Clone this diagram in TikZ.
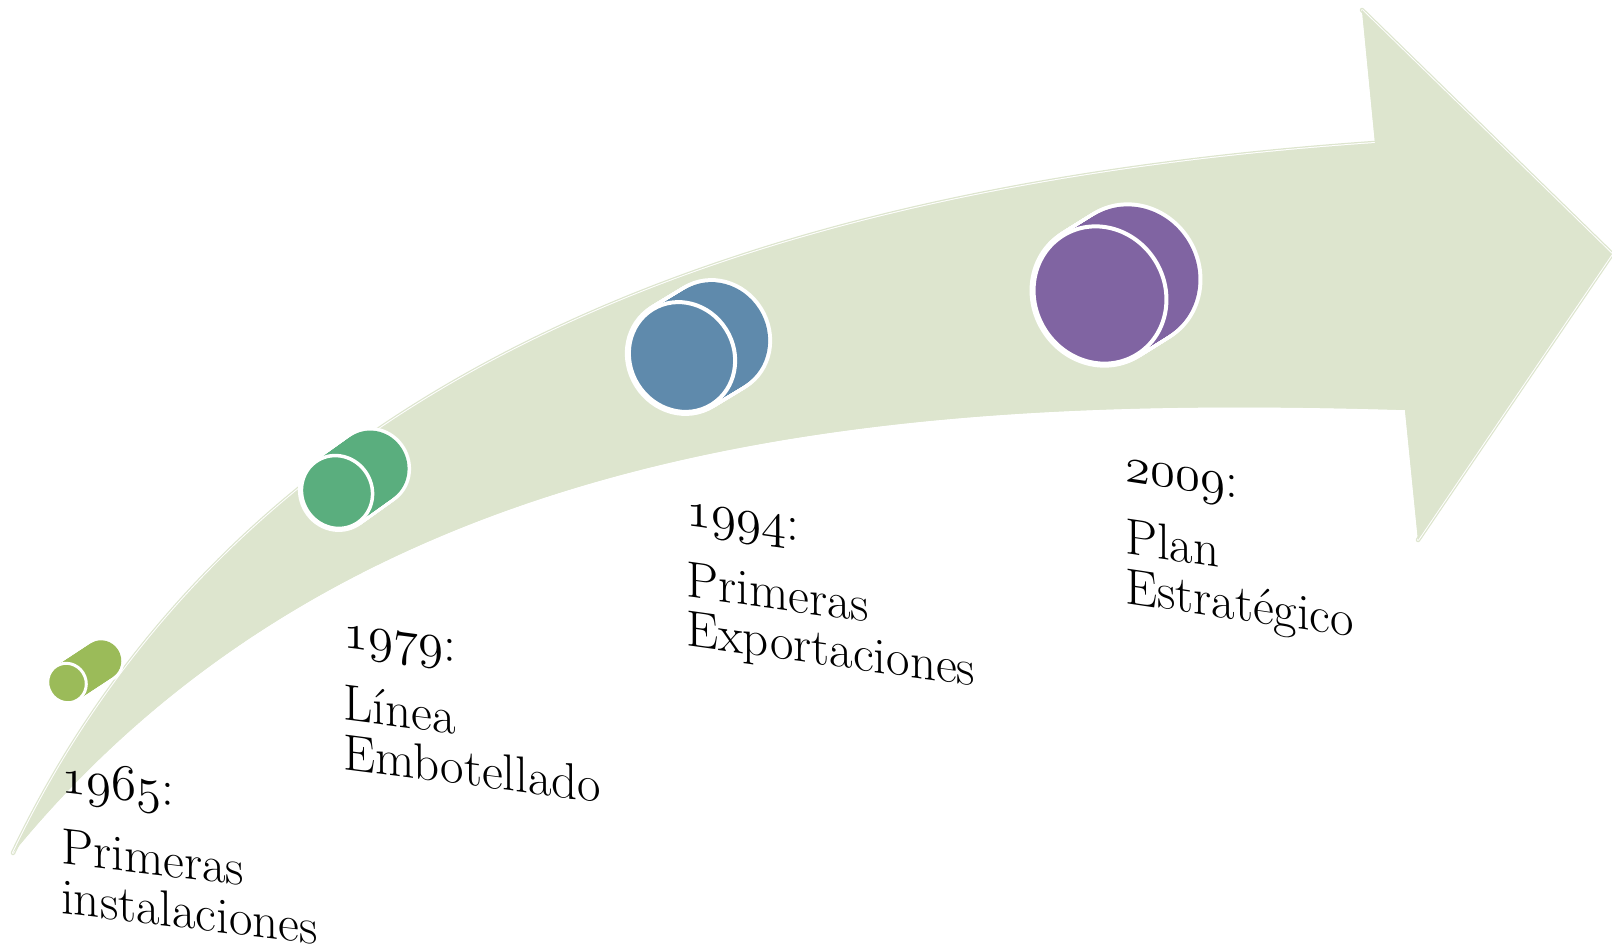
\documentclass[tikz,border=0pt]{standalone}
\usepackage{fontspec}
\definecolor{arrowc}{HTML}{DDE5CE}
\definecolor{limec}{HTML}{9BBB59}
\definecolor{greenc}{HTML}{5AAE7E}
\definecolor{bluec}{HTML}{5F8AAC}
\definecolor{purplec}{HTML}{8064A2}
\font\osffont=cmmi12 at 51pt
\newcommand\osf[1]{{\osffont #1}}
% #1 name, #2 x, #3 y, #4 rx, #5 ry, #6 dx, #7 dy, #8 colour, #9 white width
\newcommand\drawcyl[9]{%
  \begin{scope}[shift={(#2,#3)}]
    \coordinate (#1) at (0,0);
    \foreach \t in {0,0.04,...,1.001}
      \draw[white, line width=2*#9] [shift={(\t*#6,\t*#7)}, rotate=32] (0,0) ellipse (#4 and #5);
    \foreach \t in {0,0.04,...,1.001}
      \fill[#8] [shift={(\t*#6,\t*#7)}, rotate=32] (0,0) ellipse (#4 and #5);
    \draw[white, line width=#9, fill=#8] [rotate=32] (0,0) ellipse (#4 and #5);
  \end{scope}}
\newcommand\lbltext[3]{\begin{tabular}[t]{@{}l@{}}\osf{#1}:\\[23pt]#2\\#3\end{tabular}}
\tikzset{
  lbl/.style={anchor=base west, inner sep=0pt, yslant=-#1,
    font=\fontsize{51}{47}\selectfont\addfontfeature{FakeBold=1}, align=left},
  rim/.style={arrowc, line width=4.5pt, line join=round, line cap=round},
  gleam/.style={white, line width=2pt, line join=round, line cap=round},
}
\def\arrowpath{(13,853) .. controls (249.5,358) and (775,185) .. (1375,143)
  -- (1362,10) -- (1612,254) -- (1418,540) -- (1405,410)
  .. controls (905,395) and (359.5,429.5) .. (13,853) -- cycle}
\def\toppath{(13,853) .. controls (249.5,358) and (775,185) .. (1375,143)}
\def\headpath{(1362,10) -- (1612,254) -- (1418,540)}
\begin{document}
\begin{tikzpicture}[x=1pt,y=-1pt]
\useasboundingbox (0,0) rectangle (1612,951);
% curved arrow
\fill[arrowc] \arrowpath;
\draw[rim] \toppath;
\draw[rim] \headpath;
\draw[gleam] \toppath;
\draw[gleam] \headpath;
\fill[arrowc] \arrowpath;
% cylinders
\drawcyl{c1}{67}{683}{19}{20}{35}{-23}{limec}{3pt}
\drawcyl{c2}{337}{492}{35}{37}{35}{-25}{greenc}{3.5pt}
\drawcyl{c3}{682}{357}{52}{56}{33}{-20}{bluec}{4pt}
\drawcyl{c4}{1100}{295}{65}{70}{32}{-20}{purplec}{4pt}
% labels
\node[lbl=0.12] (t1) at (61,792) {\lbltext{1965}{Primeras}{instalaciones}};
\node[lbl=0.13] (t2) at (343,647) {\lbltext{1979}{Línea}{Embotellado}};
\node[lbl=0.14] (t3) at (686,525) {\lbltext{1994}{Primeras}{Exportaciones}};
\node[lbl=0.15] (t4) at (1125,481) {\lbltext{2009}{Plan}{Estratégico}};
\end{tikzpicture}
\end{document}
